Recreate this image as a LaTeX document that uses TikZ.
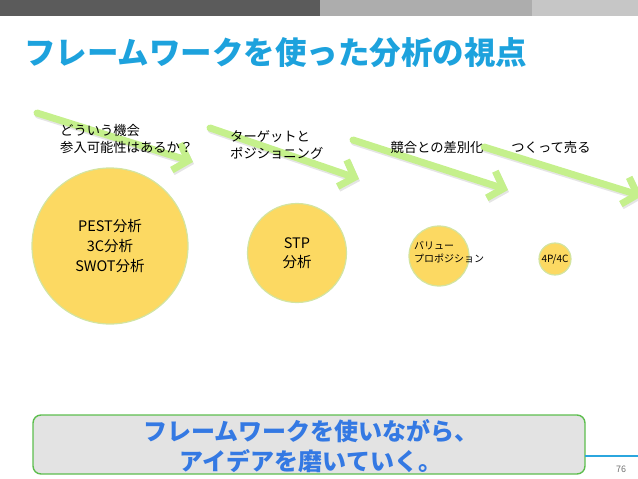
\documentclass[tikz,border=0pt]{standalone}
\usepackage{fontspec}
\setmainfont{Noto Sans CJK JP}
\usetikzlibrary{arrows.meta}
\definecolor{bardark}{HTML}{5B5B5B}
\definecolor{barmid}{HTML}{ADADAD}
\definecolor{barlight}{HTML}{C6C6C6}
\definecolor{titleblue}{HTML}{1DA2DD}
\definecolor{arrowgreen}{HTML}{C5F08C}
\definecolor{bubblefill}{HTML}{FCD962}
\definecolor{bubbleedge}{HTML}{D3E4A0}
\definecolor{boxedge}{HTML}{5DBE4E}
\definecolor{boxfill}{HTML}{E3E3E3}
\definecolor{msgblue}{HTML}{3479E3}
\definecolor{ruleblue}{HTML}{2BA6DE}
\begin{document}
\begin{tikzpicture}[x=1pt,y=-1pt,
    greenarrow/.style={line width=7pt,line cap=round,line join=round,color=arrowgreen,
        -{Straight Barb[length=13pt,width=28pt]}},
    arrowshadow/.style={greenarrow,color=black!10},
    bubble/.style={circle,fill=bubblefill,draw=bubbleedge,line width=1.2pt,inner sep=0pt,align=center},
    caption/.style={font=\fontsize{13.3}{17}\selectfont,align=left,anchor=west,inner sep=0pt}]
    \useasboundingbox (0,0) rectangle (638,479);
    % top bar
    \fill[bardark] (0,0) rectangle (320,16);
    \fill[barmid] (320,0) rectangle (532,16);
    \fill[barlight] (532,0) rectangle (638,16);
    \node[anchor=west,inner sep=0pt,text=titleblue,font=\fontsize{31.5}{31.5}\selectfont\bfseries] (title) at (24,53) {フレームワークを使った分析の視点};
    % arrows
    \foreach \sx/\sy/\ex/\ey in {37/113/193/162, 210/128/359/179, 353/140/508/190, 484/147/642/196} {
        \draw[arrowshadow] (\sx+1,\sy+2) -- (\ex+1,\ey+2);
        \draw[greenarrow] (\sx,\sy) -- (\ex,\ey);
    }
    % captions
    \node[caption] (chance) at (60,139) {どういう機会\\参入可能性はあるか？};
    \node[caption] (target) at (230,145) {ターゲットと\\ポジショニング};
    \node[caption,anchor=center] (diff) at (437,147) {競合との差別化};
    \node[caption,anchor=center] (sell) at (551,147) {つくって売る};
    % bubbles
    \node[bubble,minimum size=156pt,font=\fontsize{14.5}{20}\selectfont] (pest) at (110,246) {PEST分析\\3C分析\\SWOT分析};
    \node[bubble,minimum size=99pt,font=\fontsize{14.5}{19}\selectfont] (stp) at (297,253) {STP\\分析};
    \node[bubble,minimum size=60pt] (value) at (439,256) {};
    \node[anchor=west,align=left,inner sep=0pt,font=\fontsize{10}{12.5}\selectfont] (valuetext) at (414,252) {バリュー\\プロポジション};
    \node[bubble,minimum size=32pt,font=\fontsize{10}{10}\selectfont] (fourp) at (555,259) {4P/4C};
    % message box
    \draw[boxedge,fill=boxfill,line width=1.4pt,rounded corners=8pt] (33,415) rectangle (585,474);
    \node[text=msgblue,align=center,font=\fontsize{24}{29.5}\selectfont\bfseries] (msg) at (311,446) {フレームワークを使いながら、\\アイデアを磨いていく。};
    % footer
    \draw[ruleblue,line width=1.5pt] (585,456) -- (638,456);
    \node[text=black!55,font=\fontsize{9}{9}\selectfont,inner sep=0pt] (page) at (621,469) {76};
\end{tikzpicture}
\end{document}
